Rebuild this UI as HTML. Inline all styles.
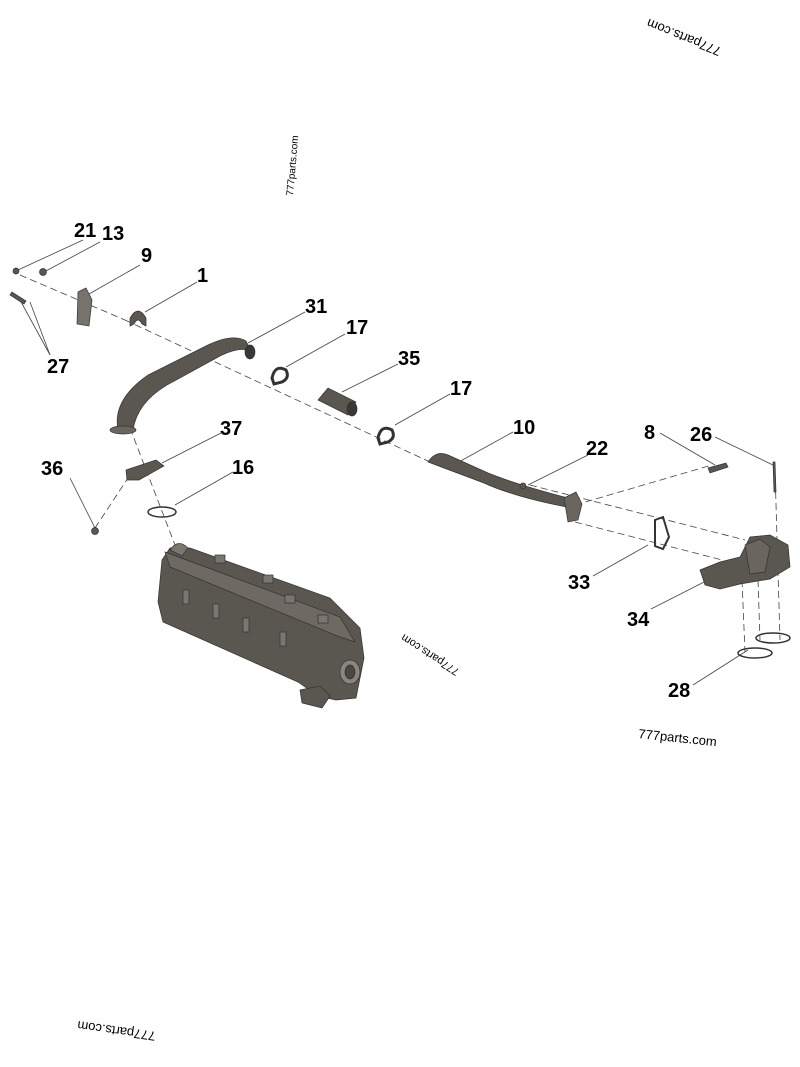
<!DOCTYPE html>
<html><head><meta charset="utf-8"><style>
html,body{margin:0;padding:0;background:#fff;}
svg{display:block;}
.l{font:bold 20px "Liberation Sans",Arial,sans-serif;fill:#000;}
.w{font:13px "Liberation Sans",Arial,sans-serif;fill:#000;}
</style></head><body>
<svg width="800" height="1067" viewBox="0 0 800 1067" xmlns="http://www.w3.org/2000/svg">
<g stroke="#444" stroke-width="0.8" fill="none">
<!-- leader lines -->
<line x1="83" y1="240" x2="18" y2="270"/>
<line x1="100" y1="242" x2="44" y2="272"/>
<line x1="140" y1="265" x2="82" y2="298"/>
<line x1="197" y1="282" x2="145" y2="312"/>
<line x1="305" y1="312" x2="248" y2="343"/>
<line x1="345" y1="334" x2="286" y2="367"/>
<line x1="398" y1="364" x2="342" y2="392"/>
<line x1="450" y1="394" x2="395" y2="425"/>
<line x1="513" y1="432" x2="457" y2="463"/>
<line x1="588" y1="455" x2="528" y2="485"/>
<line x1="660" y1="433" x2="715" y2="465"/>
<line x1="715" y1="437" x2="775" y2="466"/>
<line x1="221" y1="433" x2="162" y2="463"/>
<line x1="233" y1="472" x2="175" y2="505"/>
<line x1="70" y1="478" x2="95" y2="528"/>
<line x1="50" y1="355" x2="20" y2="300"/>
<line x1="50" y1="355" x2="30" y2="302"/>
<line x1="593" y1="576" x2="648" y2="545"/>
<line x1="651" y1="609" x2="708" y2="580"/>
<line x1="693" y1="685" x2="748" y2="650"/>
</g>
<g stroke="#444" stroke-width="0.8" fill="none" stroke-dasharray="7 4">
<line x1="20" y1="275" x2="125" y2="320"/>
<line x1="125" y1="320" x2="430" y2="462"/>
<line x1="130" y1="428" x2="175" y2="545"/>
<line x1="95" y1="528" x2="128" y2="478"/>
<line x1="530" y1="485" x2="745" y2="540"/>
<line x1="575" y1="505" x2="712" y2="465"/>
<line x1="575" y1="522" x2="722" y2="560"/>
<line x1="775" y1="470" x2="780" y2="640"/>
<line x1="742" y1="580" x2="745" y2="652"/>
<line x1="758" y1="580" x2="760" y2="640"/>
</g>
<g fill="#5a5650" stroke="#333" stroke-width="0.7">
<!-- small bolts -->
<circle cx="16" cy="271" r="3"/><circle cx="43" cy="272" r="3.5"/>
<path d="M12 292 l14 9 l-2 3 l-14 -9z"/>
<!-- 9 flange -->
<path d="M78 292 l8 -4 l6 12 l-3 26 l-12 -2 z" fill="#77736c"/>
<!-- 1 clamp -->
<path d="M130 318 q8 -14 16 0 l0 8 l-4 -2 q-4 -8 -8 0 l-4 2z"/>
<!-- pipe 31 -->
<path d="M118 430 q-6 -30 30 -55 l60 -30 q25 -12 38 -4 l6 12 q-8 -8 -30 2 l-55 30 q-30 18 -34 45 z"/>
<ellipse cx="123" cy="430" rx="13" ry="4" fill="#6a665f"/>
<ellipse cx="250" cy="352" rx="5" ry="7" fill="#3a3834"/>
<!-- 17 clamps -->
<path d="M272 378 q3 -14 14 -8 q4 8 -4 12 l-8 2z" fill="none" stroke="#333" stroke-width="3"/>
<path d="M378 438 q3 -14 14 -8 q4 8 -4 12 l-8 2z" fill="none" stroke="#333" stroke-width="3"/>
<!-- 35 sleeve -->
<path d="M318 400 l10 -12 l28 14 l-8 13 z"/>
<ellipse cx="352" cy="409" rx="5" ry="7" fill="#3a3834"/>
<!-- 10 pipe -->
<path d="M428 462 q8 -12 20 -7 l40 18 q30 12 80 25 l4 10 q-55 -10 -88 -25 l-40 -15 z"/>
<path d="M564 498 l12 -6 l6 12 l-4 16 l-10 2 z" fill="#6a665f"/>
<circle cx="523" cy="486" r="3"/>
<path d="M708 468 l18 -5 l2 4 l-18 6 z"/>
<path d="M773 462 l2 0 l1 30 l-2 0 z"/>
<!-- 33 gasket -->
<path d="M655 520 l8 -3 l6 20 l-6 12 l-8 -3 z" fill="none" stroke="#333" stroke-width="2"/>
<!-- 34 valve -->
<path d="M700 570 l20 -8 l20 -5 l10 -20 l20 -2 l18 10 l2 22 l-20 12 l-30 5 l-20 5 l-15 -4 z"/>
<path d="M745 545 l15 -6 l10 8 l-5 25 l-15 2 z" fill="#6a665f"/>
<!-- 28 gaskets -->
<ellipse cx="773" cy="638" rx="17" ry="5" fill="none" stroke="#333" stroke-width="1.5"/>
<ellipse cx="755" cy="653" rx="17" ry="5" fill="none" stroke="#333" stroke-width="1.5"/>
<!-- 37 -->
<path d="M126 470 l30 -10 l8 6 l-25 14 l-12 0 z"/>
<ellipse cx="162" cy="512" rx="14" ry="5" fill="none" stroke="#333" stroke-width="1.5"/>
<circle cx="95" cy="531" r="3.5"/>
<!-- cooler -->
<path d="M162 560 l8 -12 l20 0 l140 50 l30 30 l4 30 l-8 40 l-20 2 l-18 -4 l-20 -14 l-135 -60 l-5 -20 z"/>
<path d="M165 552 l175 65 l15 25 l-15 -5 l-170 -70 z" fill="#6e6a63"/>
<path d="M170 550 q8 -12 18 -2 l-6 8 z" fill="#7a766f"/>
<ellipse cx="350" cy="672" rx="10" ry="12" fill="#8a867f"/>
<ellipse cx="350" cy="672" rx="5" ry="7" fill="#4a4742"/>
<path d="M300 690 l20 -4 l10 10 l-8 12 l-20 -5 z"/>
<g fill="#7a766f">
<rect x="215" y="555" width="10" height="8"/><rect x="263" y="575" width="10" height="8"/>
<rect x="285" y="595" width="10" height="8"/><rect x="318" y="615" width="10" height="8"/>
<rect x="183" y="590" width="6" height="14"/><rect x="213" y="604" width="6" height="14"/>
<rect x="243" y="618" width="6" height="14"/><rect x="280" y="632" width="6" height="14"/>
</g>
</g>
<!-- labels -->
<text class="l" x="74" y="237">21</text>
<text class="l" x="102" y="240">13</text>
<text class="l" x="141" y="262">9</text>
<text class="l" x="197" y="282">1</text>
<text class="l" x="305" y="313">31</text>
<text class="l" x="346" y="334">17</text>
<text class="l" x="398" y="365">35</text>
<text class="l" x="450" y="395">17</text>
<text class="l" x="513" y="434">10</text>
<text class="l" x="586" y="455">22</text>
<text class="l" x="644" y="439">8</text>
<text class="l" x="690" y="441">26</text>
<text class="l" x="220" y="435">37</text>
<text class="l" x="41" y="475">36</text>
<text class="l" x="232" y="474">16</text>
<text class="l" x="47" y="373">27</text>
<text class="l" x="568" y="589">33</text>
<text class="l" x="627" y="626">34</text>
<text class="l" x="668" y="697">28</text>
<!-- watermarks -->
<text class="w" transform="translate(722,48) rotate(202)">777parts.com</text>
<text class="w" transform="translate(293,196) rotate(-85)" style="font-size:10px">777parts.com</text>
<text class="w" transform="translate(460,670) rotate(213)" style="font-size:11px">777parts.com</text>
<text class="w" transform="translate(638,738) rotate(6)">777parts.com</text>
<text class="w" transform="translate(156,1032) rotate(188)">777parts.com</text>
</svg>
</body></html>
